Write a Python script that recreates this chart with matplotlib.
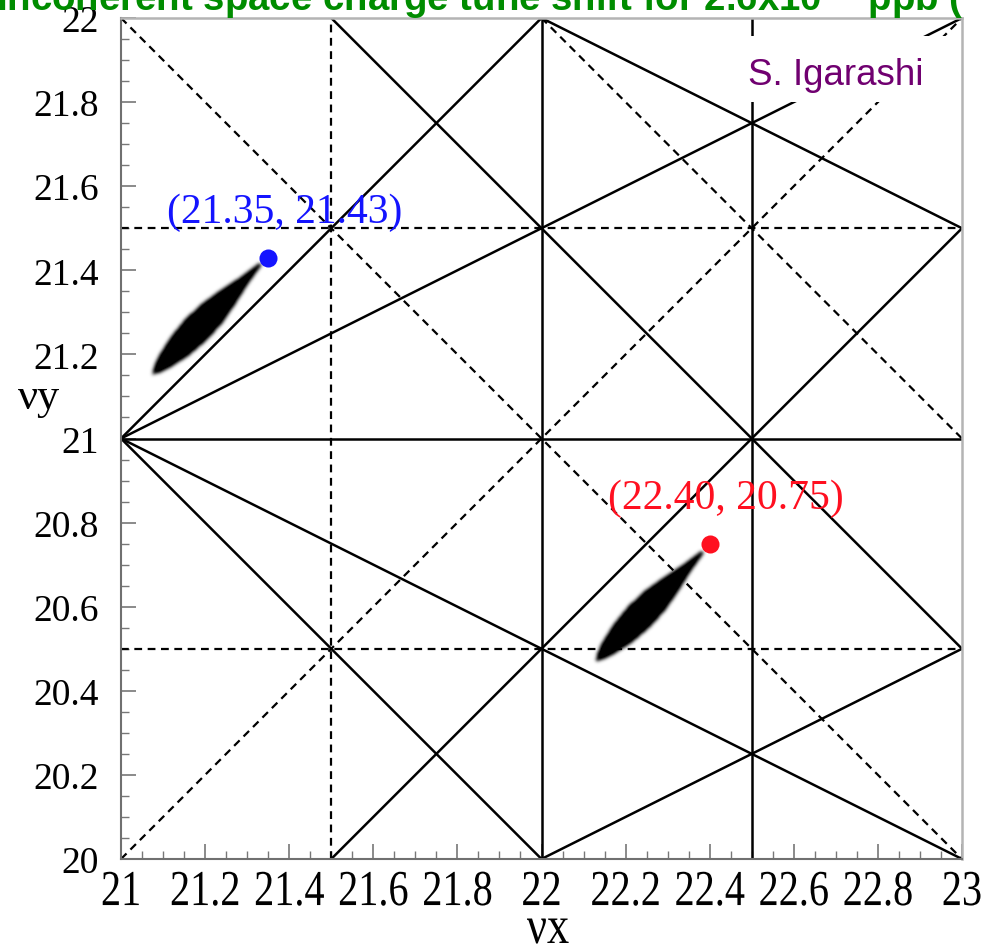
import numpy as np
import matplotlib
matplotlib.use("Agg")
import matplotlib.pyplot as plt
from matplotlib.ticker import MultipleLocator, FormatStrFormatter
from matplotlib.patches import Rectangle
from matplotlib.patheffects import AbstractPathEffect
from matplotlib.transforms import Affine2D
from matplotlib.path import Path

# resonance lines a*nux + b*nuy = c
solid_lines = [(1, 0, 22.0), (1, 0, 22.5), (0, 1, 21.0),
               (1, -1, 0.0), (1, -2, -21.0), (1, 2, 63.0), (1, 1, 42.0),
               (1, 1, 43.5), (1, -1, 1.5), (1, 2, 66.0), (1, -2, -18.0)]
dashed_lines = [(1, 0, 21.5), (0, 1, 21.5), (0, 1, 20.5),
                (1, 1, 43.0), (1, -1, 1.0), (1, 1, 44.0)]

# working points
wp_x = [21.35, 22.40]
wp_y = [21.43, 20.75]
wp_colors = ["#1414ff", "#ff1020"]

# tune footprint outlines (tip -> tail -> back to tip)
fp1_x = [21.3279, 21.2837, 21.2373, 21.1922, 21.1524, 21.1177, 21.0880, 21.0771, 21.0737,
         21.0906, 21.1151, 21.1617, 21.2033, 21.2397, 21.2711, 21.3008, 21.3332]
fp1_y = [21.4174, 21.3843, 21.3539, 21.3215, 21.2844, 21.2421, 21.1950, 21.1703, 21.1522,
         21.1570, 21.1684, 21.1988, 21.2345, 21.2749, 21.3206, 21.3677, 21.4126]
fp2_x = [22.3814, 22.3377, 22.2916, 22.2468, 22.2074, 22.1729, 22.1436, 22.1327, 22.1296,
         22.1465, 22.1707, 22.2171, 22.2583, 22.2944, 22.3256, 22.3548, 22.3867]
fp2_y = [20.7325, 20.6999, 20.6697, 20.6378, 20.6010, 20.5591, 20.5122, 20.4875, 20.4697,
         20.4742, 20.4856, 20.5158, 20.5510, 20.5912, 20.6364, 20.6832, 20.7277]

serif = ["Liberation Serif", "DejaVu Serif"]
sans = ["Liberation Sans", "DejaVu Sans"]


class VStretch(AbstractPathEffect):
    """Draw text glyphs scaled vertically about their baseline."""

    def __init__(self, sy):
        super().__init__()
        self.sy = sy

    def draw_path(self, renderer, gc, tpath, affine, rgbFace=None):
        ox, oy = affine.transform((0, 0))
        aff = affine + Affine2D().translate(-ox, -oy).scale(1, self.sy).translate(ox, oy)
        renderer.draw_path(gc, tpath, aff, rgbFace)


def soft_mask(outlines, n=841, sigma=1.8):
    # rasterise the footprint outlines and soften the edges a little
    gx = np.linspace(21, 23, n)
    gy = np.linspace(20, 22, n)
    X, Y = np.meshgrid(gx, gy)
    pts = np.column_stack([X.ravel(), Y.ravel()])
    mask = np.zeros(n * n)
    for ox, oy in outlines:
        mask = np.maximum(mask, Path(np.column_stack([ox, oy])).contains_points(pts))
    mask = mask.reshape(n, n)
    r = np.arange(-7, 8)
    k = np.exp(-r ** 2 / (2 * sigma ** 2))
    k /= k.sum()
    mask = np.apply_along_axis(lambda v: np.convolve(v, k, mode="same"), 0, mask)
    mask = np.apply_along_axis(lambda v: np.convolve(v, k, mode="same"), 1, mask)
    return mask


fig = plt.figure(figsize=(9.83, 9.53), dpi=100)
ax = fig.add_axes([121 / 983, 93 / 953, 841 / 983, 841 / 953])

xs = np.array([21.0, 23.0])
ys = np.array([20.0, 22.0])


def draw_res(a, b, c, **kw):
    if b == 0:
        ax.plot([c / a, c / a], ys, **kw)
    else:
        ax.plot(xs, (c - a * xs) / b, **kw)


for a, b, c in solid_lines:
    draw_res(a, b, c, color="black", lw=1.8, solid_capstyle="butt")
for a, b, c in dashed_lines:
    draw_res(a, b, c, color="black", lw=1.6, ls=(0, (3.5, 2.5)))

# footprints
m = soft_mask([(fp1_x, fp1_y), (fp2_x, fp2_y)])
rgba = np.zeros(m.shape + (4,))
rgba[..., 3] = np.clip(m * 1.15, 0, 1)
ax.imshow(rgba, origin="lower", extent=(21, 23, 20, 22), aspect="auto",
          interpolation="bilinear", zorder=3)

for x, y, col in zip(wp_x, wp_y, wp_colors):
    ax.plot(x, y, "o", color=col, ms=13, mec="none", zorder=4)
    ax.annotate(f"({x:.2f}, {y:.2f})", (x, y), xytext=(-73, 26),
                textcoords="offset points", color=col, fontsize=30,
                family=serif, va="baseline", ha="left", zorder=5)

ax.set_xlim(21, 23)
ax.set_ylim(20, 22)

# author box
ax.add_patch(Rectangle((0.7325, 0.9001), 0.2532, 0.0785, transform=ax.transAxes,
                       facecolor="white", edgecolor="none", zorder=6))
ax.text(0.850, 0.9215, "S. Igarashi", transform=ax.transAxes, color="#700070",
        fontsize=26.5, family=sans, ha="center", va="baseline", zorder=7)

ax.xaxis.set_major_locator(MultipleLocator(0.2))
ax.xaxis.set_minor_locator(MultipleLocator(0.05))
ax.yaxis.set_major_locator(MultipleLocator(0.2))
ax.yaxis.set_minor_locator(MultipleLocator(0.05))
ax.xaxis.set_major_formatter(FormatStrFormatter("%g"))
ax.yaxis.set_major_formatter(FormatStrFormatter("%g"))
ax.tick_params(which="both", direction="in", color="#777777", top=False, right=False)
ax.tick_params(which="major", length=11, width=1.2)
ax.tick_params(which="minor", length=6, width=1.0)
ax.tick_params(axis="x", pad=13, labelsize=29)
ax.tick_params(axis="y", pad=16, labelsize=27)
for lab in ax.get_xticklabels() + ax.get_yticklabels():
    lab.set_family(serif)
for lab in ax.get_xticklabels():
    lab.set_path_effects([VStretch(1.25)])

for side in ["left", "bottom"]:
    ax.spines[side].set_color("#707070")
    ax.spines[side].set_linewidth(1.5)
for side in ["top", "right"]:
    ax.spines[side].set_color("#b4b4b4")
    ax.spines[side].set_linewidth(1.8)

fig.text(39 / 983, 1 - 398 / 953, "νy", fontsize=32, family=serif,
         ha="center", va="center")
fig.text(548 / 983, 1 - 944 / 953, "νx", fontsize=32, family=serif,
         ha="center", va="baseline", path_effects=[VStretch(1.2)])

fig.text(-0.004, 1 - 11 / 953, "Incoherent space charge tune shift for 2.6x10$^{14}$ ppb (",
         fontsize=27.6, family=sans, weight="bold", color="#008c00",
         ha="left", va="baseline")

fig.savefig("out.png", dpi=100, facecolor="white")
